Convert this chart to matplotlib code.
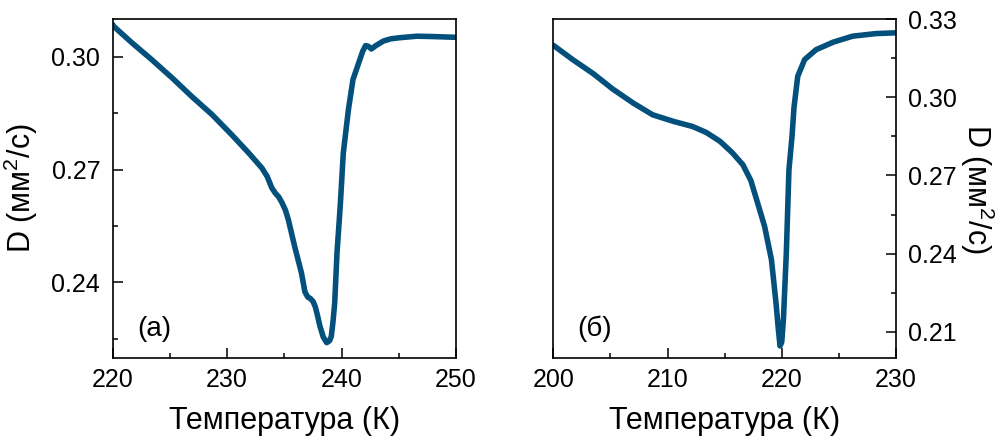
import matplotlib
matplotlib.use("Agg")
import matplotlib.pyplot as plt
from matplotlib.ticker import MultipleLocator

plt.rcParams['font.family'] = ['Liberation Sans', 'DejaVu Sans']
plt.rcParams['mathtext.fontset'] = 'custom'
plt.rcParams['mathtext.rm'] = 'Liberation Sans'
plt.rcParams['mathtext.it'] = 'Liberation Sans:italic'

# (a) thermal diffusivity vs temperature, first sample
temp_a = [220.0, 220.1, 221.7, 223.4, 225.2, 226.9, 228.7, 230.4, 231.9, 233.05,
          233.5, 233.9, 234.2, 234.5, 234.8, 235.1, 235.35, 235.9, 236.5, 236.8,
          237.05, 237.25, 237.5, 237.7, 237.9, 238.1, 238.4, 238.7, 238.95, 239.1,
          239.25, 239.4, 239.6, 239.9, 240.15, 240.6, 241.0, 241.6, 241.85, 242.1,
          242.35, 242.6, 243.0, 243.65, 244.3, 245.1, 246.6, 248.0, 250.0]
diff_a = [0.3086, 0.3081, 0.3037, 0.2993, 0.2944, 0.2895, 0.2846, 0.2793, 0.2744, 0.2704,
          0.2682, 0.2652, 0.2638, 0.2628, 0.2612, 0.2592, 0.2567, 0.2496, 0.2425, 0.2375,
          0.2361, 0.2358, 0.2350, 0.2336, 0.2312, 0.2285, 0.2255, 0.2240, 0.2245, 0.2256,
          0.2295, 0.2345, 0.2478, 0.2611, 0.2744, 0.2860, 0.2940, 0.2993, 0.3015, 0.3030,
          0.3028, 0.3021, 0.3030, 0.3042, 0.3048, 0.3051, 0.3055, 0.3054, 0.3052]

# (б) thermal diffusivity vs temperature, second sample
temp_b = [200.0, 201.7, 203.5, 205.2, 207.0, 208.7, 210.5, 212.2, 213.4, 214.6,
          215.7, 216.6, 217.3, 217.8, 218.5, 219.1, 219.5, 219.7, 219.85, 220.0,
          220.15, 220.4, 220.63, 220.9, 221.07, 221.4, 222.0, 223.0, 224.5, 226.2,
          228.25, 230.0]
diff_b = [0.3200, 0.3145, 0.3091, 0.3032, 0.2978, 0.2933, 0.2908, 0.2888, 0.2865, 0.2831,
          0.2786, 0.2741, 0.2680, 0.2607, 0.2504, 0.2376, 0.2209, 0.2110, 0.2045, 0.2060,
          0.2150, 0.2402, 0.2722, 0.2850, 0.2960, 0.3081, 0.3145, 0.3183, 0.3212, 0.3235,
          0.3245, 0.3248]

line_color = '#03507c'
ylabel = 'D (мм$^2$/с)'
xlabel = 'Температура (К)'

fig = plt.figure(figsize=(10.04, 4.45), dpi=100)
ax1 = fig.add_axes([0.1122, 0.1962, 0.3420, 0.7605])
ax2 = fig.add_axes([0.5511, 0.1962, 0.3413, 0.7605])

for ax in (ax1, ax2):
    for sp in ax.spines.values():
        sp.set_linewidth(1.2)
    ax.xaxis.set_major_locator(MultipleLocator(10))
    ax.xaxis.set_minor_locator(MultipleLocator(5))
    ax.yaxis.set_major_locator(MultipleLocator(0.03))
    ax.yaxis.set_minor_locator(MultipleLocator(0.015))
    ax.tick_params(which='both', direction='in', width=1.1, labelsize=18)
    ax.tick_params(which='major', length=7)
    ax.tick_params(which='minor', length=3.5)
    ax.tick_params(axis='x', pad=7.5)
    ax.set_xlabel(xlabel, fontsize=22, labelpad=10)

ax1.plot(temp_a, diff_a, color=line_color, lw=4, solid_capstyle='round', solid_joinstyle='round')
ax1.set_xlim(220, 250)
ax1.set_ylim(0.22, 0.31)
ax1.tick_params(axis='y', pad=9)
ax1.set_ylabel(ylabel, fontsize=22, labelpad=8)
ax1.text(0.071, 0.065, '(a)', transform=ax1.transAxes, fontsize=20)

ax2.plot(temp_b, diff_b, color=line_color, lw=4, solid_capstyle='round', solid_joinstyle='round')
ax2.set_xlim(200, 230)
ax2.set_ylim(0.20, 0.33)
ax2.yaxis.tick_right()
ax2.yaxis.set_label_position('right')
ax2.tick_params(axis='y', which='both', left=False, right=True, pad=9)
ax2.set_ylabel(ylabel, fontsize=22, rotation=270, labelpad=28)
ax2.text(0.071, 0.065, '(б)', transform=ax2.transAxes, fontsize=20)

fig.savefig('out.png', dpi=100)
